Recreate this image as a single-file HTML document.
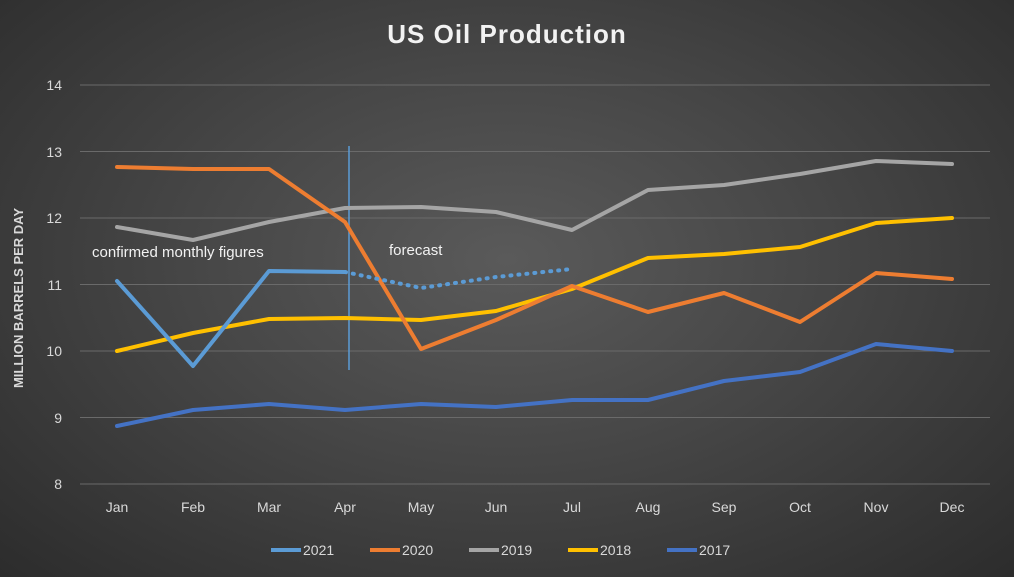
<!DOCTYPE html>
<html><head><meta charset="utf-8"><style>
html,body{margin:0;padding:0;}
body{width:1014px;height:577px;overflow:hidden;background:radial-gradient(ellipse at 50% 45%,#5a5a5a 0%,#464646 45%,#2c2c2c 100%);font-family:"Liberation Sans",sans-serif;}
svg{position:absolute;left:0;top:0;}
</style></head><body>
<svg width="1014" height="577" viewBox="0 0 1014 577">
<text x="507" y="43" text-anchor="middle" font-size="26" font-weight="bold" fill="#f2f2f2" letter-spacing="1">US Oil Production</text>
<g stroke="#6a6a6a" stroke-width="1">
<line x1="80" x2="990" y1="85" y2="85"/><line x1="80" x2="990" y1="151.5" y2="151.5"/>
<line x1="80" x2="990" y1="218" y2="218"/><line x1="80" x2="990" y1="284.5" y2="284.5"/>
<line x1="80" x2="990" y1="351" y2="351"/><line x1="80" x2="990" y1="417.5" y2="417.5"/>
<line x1="80" x2="990" y1="484" y2="484"/>
</g>
<g fill="#d9d9d9" font-size="14" text-anchor="end">
<text x="62" y="90">14</text><text x="62" y="157">13</text><text x="62" y="223">12</text>
<text x="62" y="290">11</text><text x="62" y="356">10</text><text x="62" y="423">9</text><text x="62" y="489">8</text>
</g>
<g fill="#d9d9d9" font-size="14" text-anchor="middle">
<text x="117" y="512">Jan</text><text x="193" y="512">Feb</text><text x="269" y="512">Mar</text><text x="345" y="512">Apr</text>
<text x="421" y="512">May</text><text x="496" y="512">Jun</text><text x="572" y="512">Jul</text><text x="648" y="512">Aug</text>
<text x="724" y="512">Sep</text><text x="800" y="512">Oct</text><text x="876" y="512">Nov</text><text x="952" y="512">Dec</text>
</g>
<text transform="translate(23,298) rotate(-90)" text-anchor="middle" fill="#d9d9d9" font-size="13" font-weight="bold">MILLION BARRELS PER DAY</text>
<line x1="349" x2="349" y1="146" y2="370" stroke="#5B9BD5" stroke-width="1.5"/>
<text x="92" y="257" fill="#f2f2f2" font-size="15">confirmed monthly figures</text>
<text x="389" y="255" fill="#f2f2f2" font-size="15">forecast</text>
<g fill="none" stroke-width="4" stroke-linejoin="round" stroke-linecap="round">
<polyline stroke="#4472C4" points="117,426 193,410 269,404 345,410 421,404 496,407 572,400 648,400 724,381 800,372 876,344 952,351"/>
<polyline stroke="#FFC000" points="117,351 193,333 269,319 345,318 421,320 496,311 572,289 648,258 724,254 800,247 876,223 952,218"/>
<polyline stroke="#A5A5A5" points="117,227 193,240 269,222 345,208 421,207 496,212 572,230 648,190 724,185 800,174 876,161 952,164"/>
<polyline stroke="#ED7D31" points="117,167 193,169 269,169 345,222 421,349 496,320 572,286 648,312 724,293 800,322 876,273 952,279"/>
<polyline stroke="#5B9BD5" points="117,281 193,366 269,271 345,272"/>
<polyline stroke="#5B9BD5" stroke-dasharray="1 7" points="345,272 421,288 496,277 572,269"/>
</g>
<g font-size="14" fill="#d9d9d9">
<line x1="271" x2="301" y1="550" y2="550" stroke="#5B9BD5" stroke-width="4"/><text x="303" y="555">2021</text>
<line x1="370" x2="400" y1="550" y2="550" stroke="#ED7D31" stroke-width="4"/><text x="402" y="555">2020</text>
<line x1="469" x2="499" y1="550" y2="550" stroke="#A5A5A5" stroke-width="4"/><text x="501" y="555">2019</text>
<line x1="568" x2="598" y1="550" y2="550" stroke="#FFC000" stroke-width="4"/><text x="600" y="555">2018</text>
<line x1="667" x2="697" y1="550" y2="550" stroke="#4472C4" stroke-width="4"/><text x="699" y="555">2017</text>
</g>
</svg>
</body></html>
